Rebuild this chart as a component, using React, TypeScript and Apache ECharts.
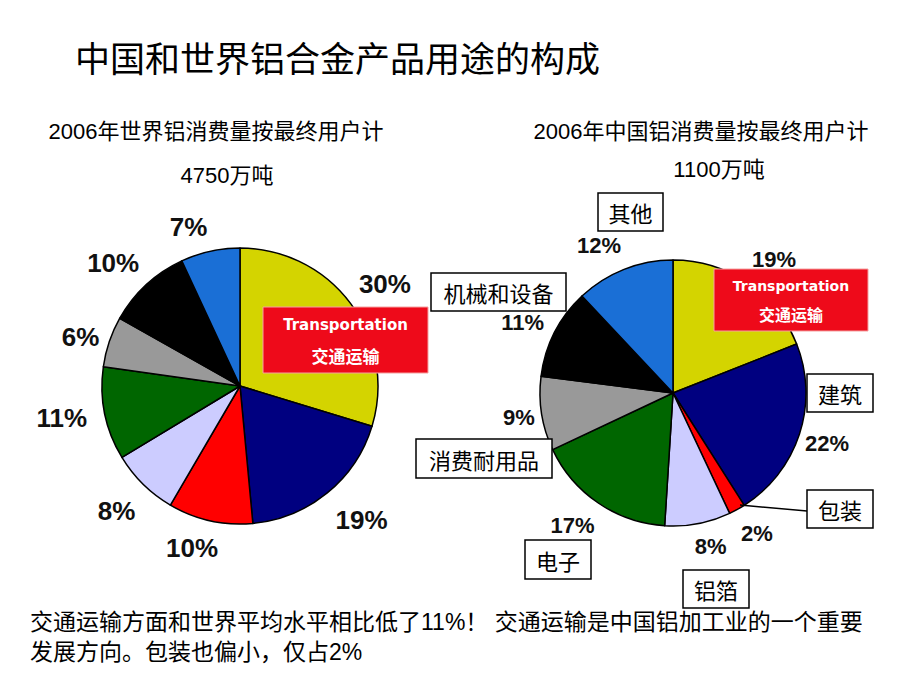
import React, { useEffect, useRef } from 'react';
import * as echarts from 'echarts';

const categories = ['交通运输', '建筑', '包装', '铝箔', '电子', '消费耐用品', '机械和设备', '其他'];
const worldValues = [30, 19, 10, 8, 11, 6, 10, 7];
const chinaValues = [19, 22, 2, 8, 17, 9, 11, 12];
const sliceColors = ['#D4D400', '#000080', '#FF0000', '#CCCCFF', '#006600', '#999999', '#000000', '#1A6FD6'];

const titleText = '中国和世界铝合金产品用途的构成';
const worldSubtitle = '2006年世界铝消费量按最终用户计';
const worldTotal = '4750万吨';
const chinaSubtitle = '2006年中国铝消费量按最终用户计';
const chinaTotal = '1100万吨';
const noteLine1 = '交通运输方面和世界平均水平相比低了11%！ 交通运输是中国铝加工业的一个重要';
const noteLine2 = '发展方向。包装也偏小，仅占2%';
const transportEn = 'Transportation';

// layout (not data)
const WORLD_C = [240, 386];
const WORLD_R = 138;
const CHINA_C = [673, 393];
const CHINA_R = 133;
const worldLabelDist = [177, 181, 169, 176, 181, 167, 177, 167];
const worldLabelShift = [1.5, -3, 4, 0, 1.5, -1.5, -3, -5.5];
const chinaLabelDist = [167, 162, 164, 158, 166, 156, 166, 165];
const chinaLabelShift = [3, 0, -2, -3, 3, 0, -2, -5];
// boxes for china category names: [index, x, y, w, h]
const chinaBoxes = [
  [1, 807, 374, 66, 38],
  [2, 807, 490, 66, 38],
  [3, 683, 570, 66, 38],
  [4, 525, 540, 66, 39],
  [5, 416, 439, 136, 39],
  [6, 431, 273, 135, 38],
  [7, 598, 193, 65, 38],
];

function labelPoints(values: number[], c: number[], dists: number[], shifts: number[]) {
  const total = values.reduce((a, b) => a + b, 0);
  let acc = 0;
  return values.map((v, i) => {
    const mid = ((acc + v / 2) / total) * 360 + shifts[i];
    acc += v;
    const rad = (mid * Math.PI) / 180;
    return { x: c[0] + dists[i] * Math.sin(rad), y: c[1] - dists[i] * Math.cos(rad) };
  });
}

function transportBox(x: number, y: number, w: number, h: number, enSize: number, cnSize: number) {
  return {
    type: 'group',
    z: 100,
    children: [
      { type: 'rect', z: 100, shape: { x, y, width: w, height: h }, style: { fill: '#EE0A1A', stroke: '#F5A0A0', lineWidth: 1 } },
      {
        type: 'text',
        z: 101,
        x: x + w / 2,
        y: y + h * 0.28,
        style: { text: transportEn, fill: '#fff', font: `bold ${enSize}px "DejaVu Sans", sans-serif`, align: 'center', verticalAlign: 'middle' },
      },
      {
        type: 'text',
        z: 101,
        x: x + w / 2,
        y: y + h * 0.73,
        style: { text: categories[0], fill: '#fff', font: `bold ${cnSize}px "Noto Sans CJK SC", sans-serif`, align: 'center', verticalAlign: 'middle' },
      },
    ],
  };
}

export default function App() {
  const ref = useRef<HTMLDivElement>(null);
  useEffect(() => {
    if (!ref.current) return;
    const chart = echarts.init(ref.current, null, { renderer: 'svg' });
    const worldPts = labelPoints(worldValues, WORLD_C, worldLabelDist, worldLabelShift);
    const chinaPts = labelPoints(chinaValues, CHINA_C, chinaLabelDist, chinaLabelShift);
    const makeData = (vals: number[]) =>
      vals.map((v, i) => ({ name: categories[i], value: v, itemStyle: { color: sliceColors[i] } }));
    const cjk = '"Liberation Sans", "Noto Sans CJK SC", sans-serif';

    const graphics: any[] = [
      { type: 'text', x: 75, y: 56, style: { text: titleText, font: `35px "Noto Sans CJK SC", sans-serif`, fill: '#000', verticalAlign: 'middle' } },
      { type: 'text', x: 216, y: 131, style: { text: worldSubtitle, font: `22px ${cjk}`, fill: '#000', align: 'center', verticalAlign: 'middle' } },
      { type: 'text', x: 227, y: 175, style: { text: worldTotal, font: `22px ${cjk}`, fill: '#000', align: 'center', verticalAlign: 'middle' } },
      { type: 'text', x: 701, y: 131, style: { text: chinaSubtitle, font: `22px ${cjk}`, fill: '#000', align: 'center', verticalAlign: 'middle' } },
      { type: 'text', x: 719, y: 169, style: { text: chinaTotal, font: `22px ${cjk}`, fill: '#000', align: 'center', verticalAlign: 'middle' } },
      { type: 'text', x: 30, y: 622, style: { text: noteLine1, font: `23px ${cjk}`, fill: '#000', verticalAlign: 'middle' } },
      { type: 'text', x: 30, y: 652, style: { text: noteLine2, font: `23px ${cjk}`, fill: '#000', verticalAlign: 'middle' } },
      transportBox(263, 307, 165, 66, 15, 17),
      transportBox(714, 269, 154, 62, 14, 16),
      { type: 'line', z: 100, shape: { x1: 807, y1: 511, x2: 740, y2: 505 }, style: { stroke: '#000', lineWidth: 1.5 } },
    ];
    chinaBoxes.forEach(([idx, x, y, w, h]) => {
      graphics.push({
        type: 'group',
        z: 100,
        children: [
          { type: 'rect', z: 100, shape: { x, y, width: w, height: h }, style: { fill: '#fff', stroke: '#000', lineWidth: 1.5 } },
          {
            type: 'text',
            z: 101,
            x: x + w / 2,
            y: y + h / 2,
            style: { text: categories[idx], font: `22px "Noto Sans CJK SC", sans-serif`, fill: '#000', align: 'center', verticalAlign: 'middle' },
          },
        ],
      });
    });

    const baseSeries = (c: number[], r: number, vals: number[], pts: any[], fs: number) => ({
      type: 'pie',
      center: c,
      radius: r,
      startAngle: 90,
      clockwise: true,
      avoidLabelOverlap: false,
      data: makeData(vals),
      itemStyle: { borderColor: '#000', borderWidth: 1.5 },
      label: {
        show: true,
        position: 'outside',
        formatter: '{c}%',
        fontSize: fs,
        fontWeight: 'bold',
        fontFamily: '"Liberation Sans", Arial, sans-serif',
        color: '#111',
      },
      labelLine: { show: false },
      labelLayout: (p: any) => ({ x: pts[p.dataIndex].x, y: pts[p.dataIndex].y, align: 'center', verticalAlign: 'middle' }),
      emphasis: { disabled: true },
    });

    chart.setOption({
      animation: false,
      backgroundColor: '#fff',
      series: [
        baseSeries(WORLD_C, WORLD_R, worldValues, worldPts, 26),
        baseSeries(CHINA_C, CHINA_R, chinaValues, chinaPts, 22),
      ],
      graphic: graphics,
    });
    return () => chart.dispose();
  }, []);
  return <div ref={ref} style={{ position: 'fixed', left: 0, top: 0, width: 920, height: 690, background: '#fff' }} />;
}
